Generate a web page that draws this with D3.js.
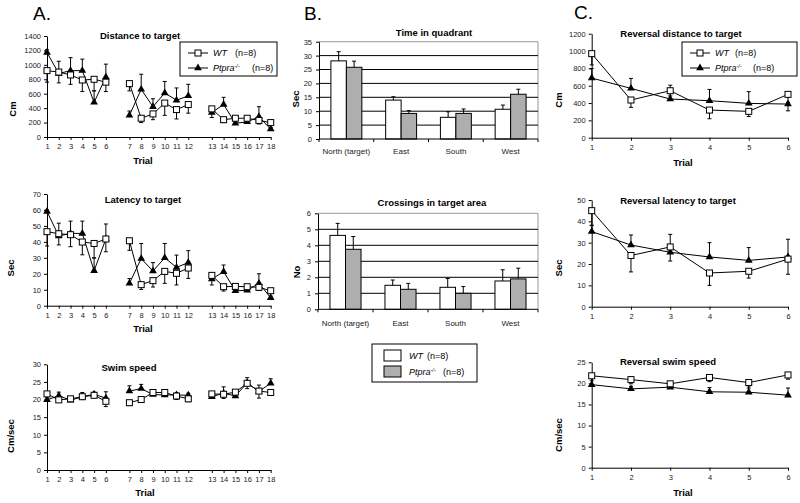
<!DOCTYPE html>
<html><head><meta charset="utf-8">
<script src="https://cdn.jsdelivr.net/npm/d3@7"></script>
<style>
html,body{margin:0;padding:0;background:#fff;}
svg{display:block;font-family:"Liberation Sans",Arial,sans-serif;}
.tick text{fill:#222;}
</style></head>
<body>
<svg id="c" width="800" height="503"></svg>
<script>
// ---------- DATA ----------
const trials = [1,2,3,4,5,6,7,8,9,10,11,12,13,14,15,16,17,18];
const trialBlocks = [[1,6],[7,12],[13,18]];
const trialSlots = ["1","2","3","4","5","6","g1","7","8","9","10","11","12","g2","13","14","15","16","17","18"];

const distWT     = [920,900,860,790,800,760, 740,260,320,470,380,450, 390,240,260,260,230,200];
const distWTerr  = [160,150,130,160,160,130, 100,60,80,170,130,120, 120,40,30,30,50,20];
const distKO     = [1170,880,920,920,480,830, 300,660,420,610,510,570, 340,450,190,210,280,110];
const distKOerr  = [40,170,180,160,160,180, 60,210,110,160,170,160, 30,100,30,30,140,20];

const latWT      = [46.4,45.1,44.5,39.9,39,41.8, 40.7,13.2,15.7,21.5,20.3,23.6, 19,11.9,12.1,11.9,11.5,9.4];
const latWTerr   = [9,7,7.5,8,9,8, 6,3,4,7.5,7.3,6.5, 6,2.7,2,2,2,1.5];
const latKO      = [59,43.7,45.3,45.3,21.9,41.8, 14,29.5,21.7,30,24,27, 16.7,21.3,9.4,9.6,14,5];
const latKOerr   = [1,8,7.7,7.7,8,9.4, 3,9.5,5.3,9,7.7,7.5, 3,4.2,2,2,6,1];

const speedWT    = [21.6,19.9,20.2,20.8,21.2,19.5, 19.1,20,22,22,21,20.2, 21.6,21.5,22.1,24.6,22.4,22];
const speedWTerr = [0.8,0.6,0.6,0.8,0.7,1.5, 0.8,0.8,0.5,0.5,1,0.8, 0.5,1.2,0.5,1.5,2,0.5];
const speedKO    = [19.9,21.1,19.8,20.8,21.5,20.4, 22.4,23.1,21.4,21.3,21.3,21.2, 20.8,21.8,21,24.7,22.3,24.6];
const speedKOerr = [0.8,1,0.5,1.2,0.6,1.8, 1.5,1.2,0.5,0.5,0.6,0.6, 0.5,1.8,0.5,1.5,1.8,1.3];

const quadrants  = ["North (target)","East","South","West"];
const timeWT     = [28.1,14,7.8,10.7];
const timeWTerr  = [3.3,1.2,2,1.5];
const timeKO     = [25.8,9.2,9.2,16.1];
const timeKOerr  = [2.2,1,1.6,1.8];
const crossWT    = [4.62,1.5,1.375,1.77];
const crossWTerr = [0.75,0.33,0.55,0.7];
const crossKO    = [3.75,1.25,1.0,1.9];
const crossKOerr = [0.8,0.37,0.42,0.67];

const revTrials     = [1,2,3,4,5,6];
const revDistWT     = [970,435,542,319,304,500];
const revDistWTerr  = [130,85,60,100,60,190];
const revDistKO     = [688,569,446,427,396,388];
const revDistKOerr  = [110,115,160,130,135,20];
const revLatWT      = [45,24,28,15.8,16.6,22.3];
const revLatWTerr   = [7,7.7,6.6,5.8,3.2,7.1];
const revLatKO      = [35.2,28.9,25.5,23.3,21.7,23.3];
const revLatKOerr   = [3,4.7,8.4,6.7,6,8.3];
const revSpeedWT    = [21.8,20.9,19.9,21.4,20.2,22];
const revSpeedWTerr = [1.2,1,0.5,1,1.3,1];
const revSpeedKO    = [19.7,18.7,19.1,18,17.9,17.2];
const revSpeedKOerr = [1.5,0.6,0.5,1,1.5,1.7];

const groupWT = "WT", groupKO = "Ptpra", koSup = "-/-", nLabel = "(n=8)";

// ---------- DRAW ----------
const svg = d3.select("#c");
const FONT_TICK = 7.5;
const fmt = d3.format("d");

function styleAxis(g){
  g.selectAll("path.domain").attr("stroke","#000").attr("stroke-width",1);
  g.selectAll(".tick line").attr("stroke","#000");
  g.selectAll(".tick text").attr("font-size",FONT_TICK);
}
function text(x,y,s,o={}){
  const t = svg.append("text").attr("x",x).attr("y",y).text(s)
    .attr("font-size",o.size||9).attr("text-anchor",o.anchor||"middle")
    .attr("font-weight",o.bold?"bold":"normal").attr("fill","#000");
  if(o.italic) t.attr("font-style","italic");
  return t;
}
function yLabel(x,y,s){
  svg.append("text").attr("transform",`translate(${x},${y}) rotate(-90)`)
    .attr("text-anchor","middle").attr("dominant-baseline","central")
    .attr("font-size",9.5).attr("font-weight","bold").text(s);
}
function square(g,x,y){
  g.append("rect").attr("x",x-3).attr("y",y-3).attr("width",6).attr("height",6)
    .attr("fill","#fff").attr("stroke","#000").attr("stroke-width",1);
}
function triangle(g,x,y){
  g.append("path").attr("d",d3.symbol(d3.symbolTriangle).size(26)())
    .attr("transform",`translate(${x},${y})`).attr("fill","#000");
}
function errBar(g,x,y0,y1){
  g.append("line").attr("x1",x).attr("x2",x).attr("y1",y0).attr("y2",y1).attr("stroke","#000");
  g.append("line").attr("x1",x-2).attr("x2",x+2).attr("y1",y1).attr("y2",y1).attr("stroke","#000");
}

function lineChart(cfg){
  const g = svg.append("g");
  const y = d3.scaleLinear().domain([0,cfg.max]).range([cfg.yb,cfg.yt]);
  const xs = cfg.xs, pos = cfg.pos;
  g.append("g").attr("transform",`translate(0,${cfg.yb})`)
    .call(d3.axisBottom(xs).tickValues(cfg.tickVals).tickSize(3).tickSizeOuter(0).tickPadding(4))
    .call(styleAxis);
  g.append("g").attr("transform",`translate(${cfg.xl},0)`)
    .call(d3.axisLeft(y).tickValues(d3.range(0,cfg.max+0.001,cfg.step)).tickFormat(fmt).tickSize(3).tickSizeOuter(0).tickPadding(3))
    .call(styleAxis);
  const line = d3.line().x((d)=>pos(d.t)).y(d=>y(d.v));
  cfg.blocks.forEach(([a,b])=>{
    [cfg.wt,cfg.ko].forEach(arr=>{
      const pts = cfg.trials.map((t,i)=>({t,v:arr[i]})).filter(d=>d.t>=a&&d.t<=b);
      g.append("path").attr("d",line(pts)).attr("fill","none").attr("stroke","#000").attr("stroke-width",1);
    });
  });
  cfg.trials.forEach((t,i)=>{
    const x = pos(t);
    errBar(g,x,y(cfg.wt[i]),y(cfg.wt[i]-cfg.wtErr[i]));
    errBar(g,x,y(cfg.ko[i]),y(cfg.ko[i]+cfg.koErr[i]));
  });
  cfg.trials.forEach((t,i)=>{ triangle(g,pos(t),y(cfg.ko[i])); });
  cfg.trials.forEach((t,i)=>{ square(g,pos(t),y(cfg.wt[i])); });
}

// Panel A
const xA = d3.scalePoint().domain(trialSlots).range([47,270.7]);
const posA = t => xA(String(t));
const baseA = {xs:xA,pos:posA,tickVals:trials.map(String),xl:47,trials:trials,blocks:trialBlocks};
lineChart({...baseA,yb:137,yt:36,max:1400,step:200,wt:distWT,wtErr:distWTerr,ko:distKO,koErr:distKOerr});
lineChart({...baseA,yb:305.7,yt:194,max:70,step:10,wt:latWT,wtErr:latWTerr,ko:latKO,koErr:latKOerr});
lineChart({...baseA,yb:470,yt:364.3,max:30,step:5,wt:speedWT,wtErr:speedWTerr,ko:speedKO,koErr:speedKOerr});

// Panel C
const xC = d3.scalePoint().domain(revTrials.map(String)).range([591.7,788]);
const posC = t => xC(String(t));
const baseC = {xs:xC,pos:posC,tickVals:revTrials.map(String),xl:591.7,trials:revTrials,blocks:[[1,6]]};
lineChart({...baseC,yb:137.7,yt:33.7,max:1200,step:200,wt:revDistWT,wtErr:revDistWTerr,ko:revDistKO,koErr:revDistKOerr});
lineChart({...baseC,yb:306.7,yt:200,max:50,step:10,wt:revLatWT,wtErr:revLatWTerr,ko:revLatKO,koErr:revLatKOerr});
lineChart({...baseC,yb:467.7,yt:362.3,max:25,step:5,wt:revSpeedWT,wtErr:revSpeedWTerr,ko:revSpeedKO,koErr:revSpeedKOerr});

// Panel B bar charts
function barChart(cfg){
  const g = svg.append("g");
  const x = d3.scaleBand().domain(quadrants).range([cfg.xl,cfg.xr]).padding(0);
  const sub = d3.scaleBand().domain(["WT","KO"]).range([0,x.bandwidth()]).paddingInner(0).paddingOuter(0.77);
  const y = d3.scaleLinear().domain([0,cfg.max]).range([cfg.yb,cfg.yt]);
  g.append("line").attr("x1",cfg.xl).attr("x2",cfg.xr).attr("y1",cfg.yt).attr("y2",cfg.yt).attr("stroke","#999");
  g.append("line").attr("x1",cfg.xr).attr("x2",cfg.xr).attr("y1",cfg.yt).attr("y2",cfg.yb).attr("stroke","#999");
  d3.range(cfg.step,cfg.max-0.001,cfg.step).forEach(v=>{
    g.append("line").attr("x1",cfg.xl).attr("x2",cfg.xr).attr("y1",y(v)).attr("y2",y(v)).attr("stroke","#000").attr("stroke-width",1);
  });
  const series = [["WT",cfg.wt,cfg.wtErr,"#fff"],["KO",cfg.ko,cfg.koErr,"#aeaeae"]];
  quadrants.forEach((q,i)=>{
    series.forEach(([k,vals,errs,col])=>{
      const bx = x(q)+sub(k), bw = sub.bandwidth();
      g.append("rect").attr("x",bx).attr("y",y(vals[i])).attr("width",bw).attr("height",cfg.yb-y(vals[i]))
        .attr("fill",col).attr("stroke","#000").attr("stroke-width",1);
      errBar(g,bx+bw/2,y(vals[i]),y(vals[i]+errs[i]));
    });
  });
  const xa = g.append("g").attr("transform",`translate(0,${cfg.yb})`);
  xa.append("line").attr("x1",cfg.xl).attr("x2",cfg.xr).attr("stroke","#000");
  d3.range(quadrants.length+1).forEach(k=>{
    const xx = cfg.xl + k*x.bandwidth();
    xa.append("line").attr("x1",xx).attr("x2",xx).attr("y1",0).attr("y2",3).attr("stroke","#000");
  });
  quadrants.forEach(q=>{
    xa.append("text").attr("x",x(q)+x.bandwidth()/2).attr("y",cfg.labY-cfg.yb).attr("text-anchor","middle")
      .attr("font-size",8).attr("fill","#222").text(q);
  });
  g.append("g").attr("transform",`translate(${cfg.xl},0)`)
    .call(d3.axisLeft(y).tickValues(d3.range(0,cfg.max+0.001,cfg.step)).tickFormat(fmt).tickSize(3).tickSizeOuter(0).tickPadding(4))
    .call(styleAxis);
}
barChart({xl:319,xr:538,yb:139,yt:41.7,max:35,step:5,wt:timeWT,wtErr:timeWTerr,ko:timeKO,koErr:timeKOerr,labY:154});
barChart({xl:318,xr:538,yb:309.3,yt:213.3,max:6,step:1,wt:crossWT,wtErr:crossWTerr,ko:crossKO,koErr:crossKOerr,labY:326});

// Titles
text(140,39,"Distance to target",{bold:true,size:9.5});
text(143,203,"Latency to target",{bold:true,size:9.5});
text(129,371,"Swim speed",{bold:true,size:9.5});
text(434,36,"Time in quadrant",{bold:true,size:9.5});
text(432,206,"Crossings in target area",{bold:true,size:9.5});
text(681,37,"Reversal distance to target",{bold:true,size:9.5});
text(678,204,"Reversal latency to target",{bold:true,size:9.5});
text(668,365,"Reversal swim speed",{bold:true,size:9.5});

// Axis titles
[[143,164],[143,332],[145,496],[683,166],[683,496]].forEach(([x,y])=>text(x,y,"Trial",{bold:true,size:9.5}));
yLabel(12,109,"Cm"); yLabel(10,268,"Sec"); yLabel(10,436,"Cm/sec");
yLabel(295,99,"Sec"); yLabel(296,272,"No");
yLabel(558,100,"Cm"); yLabel(558,268,"Sec"); yLabel(558,435,"Cm/sec");

// Panel letters
text(33,20,"A.",{size:19,anchor:"start"});
text(304,20,"B.",{size:19,anchor:"start"});
text(574,19,"C.",{size:19,anchor:"start"});

// Line legends
function koText(x,y,nx){
  const t = svg.append("text").attr("x",x).attr("y",y).attr("font-size",9);
  t.append("tspan").attr("font-style","italic").text(groupKO);
  t.append("tspan").attr("font-size",5.5).attr("dy",-3.5).attr("font-style","italic").text(koSup);
  svg.append("text").attr("x",nx).attr("y",y).attr("font-size",9).text(nLabel);
}
function lineLegend(x0,y0,w,h,nx1,nx2){
  const g = svg.append("g");
  g.append("rect").attr("x",x0).attr("y",y0).attr("width",w).attr("height",h).attr("fill","#fff").attr("stroke","#000").attr("stroke-width",1);
  const r1 = y0+11, r2 = y0+26;
  g.append("line").attr("x1",x0+8).attr("x2",x0+28).attr("y1",r1).attr("y2",r1).attr("stroke","#000");
  g.append("line").attr("x1",x0+8).attr("x2",x0+28).attr("y1",r2).attr("y2",r2).attr("stroke","#000");
  square(g,x0+18,r1); triangle(g,x0+18,r2);
  text(x0+33,r1+3,groupWT,{italic:true,anchor:"start",size:9});
  text(nx1,r1+3,nLabel,{anchor:"start",size:9});
  koText(x0+33,r2+3,nx2);
}
lineLegend(180,42,97,34,235,252);
lineLegend(682,42,115,34,735,753);

// Bar legend
(function(){
  const g = svg.append("g");
  g.append("rect").attr("x",372).attr("y",344).attr("width",105).attr("height",38).attr("fill","#fff").attr("stroke","#000");
  g.append("rect").attr("x",384).attr("y",350).attr("width",17).attr("height",11).attr("fill","#fff").attr("stroke","#000");
  g.append("rect").attr("x",384).attr("y",366).attr("width",17).attr("height",11).attr("fill","#aeaeae").attr("stroke","#000");
  text(409,359,groupWT,{italic:true,anchor:"start",size:9});
  text(427,359,nLabel,{anchor:"start",size:9});
  koText(409,375,443);
})();
</script>
</body></html>
